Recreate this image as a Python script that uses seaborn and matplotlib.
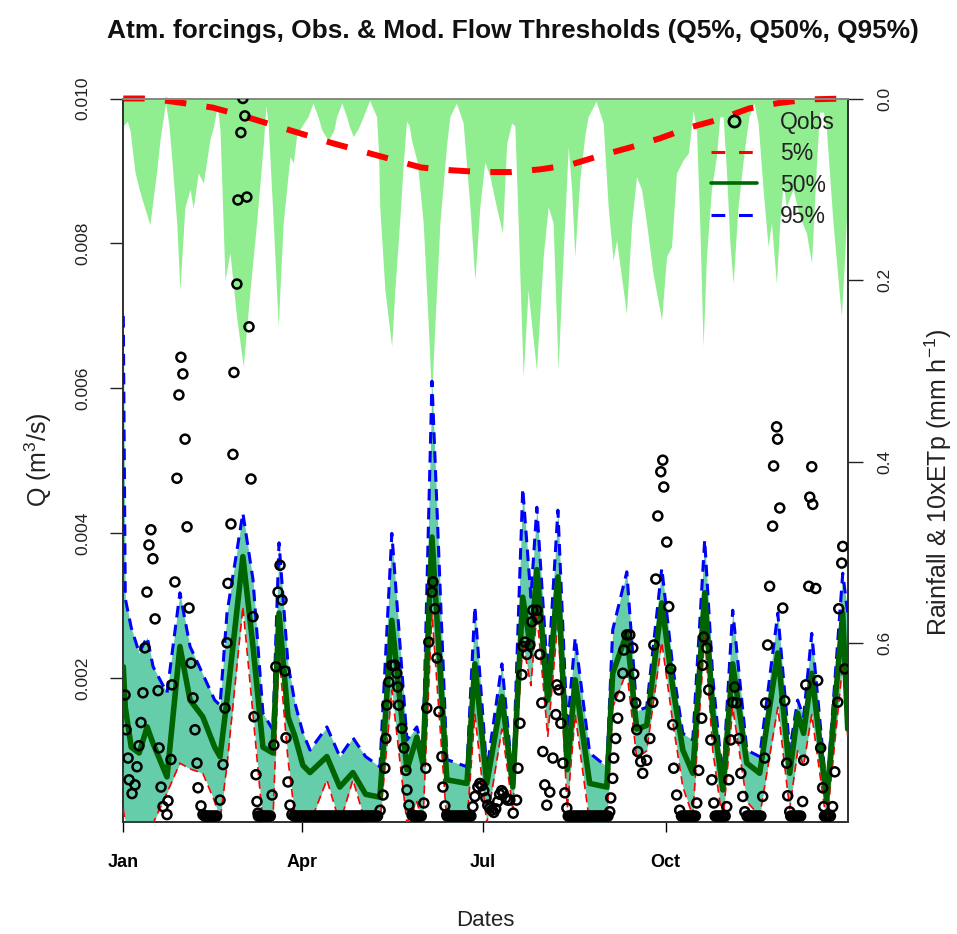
import numpy as np
import matplotlib
matplotlib.use("Agg")
import matplotlib.pyplot as plt
from matplotlib.lines import Line2D
import seaborn as sns

# ---------------- data ----------------
# Day of year (0 = 1 Jan)
tick_days = [0, 90, 181, 273]
tick_labels = ["Jan", "Apr", "Jul", "Oct"]

# Rainfall (right axis, mm/h), vertices of the rain hyetograph
rain_day = [0, 2, 3.4, 5.8, 8, 10, 13.4, 16.8, 18.5, 19.5, 21.3, 23, 24.3, 26.9, 28.5, 31, 33.6,
            35.2, 37.7, 40.3, 43.6, 45.5, 47.3, 48.7, 51.2, 53.7, 57, 60.4, 63.8, 67.1, 70.5,
            71.8, 73, 75.5, 78, 80.5, 83.9, 85.6, 87.3, 90, 93, 95.5, 98, 100, 103.2, 106, 107.4,
            110, 112.4, 114, 115.8, 118.5, 120.8, 124, 127.5, 128.5, 129.1, 131.7, 135.1, 136.7,
            139.3, 141, 142.6, 144, 145.1, 148, 151, 153.5, 155.2, 156.9, 159.4, 162.8, 164.4,
            167.7, 171.1, 174.5, 177, 179.5, 182, 184.6, 187.9, 190.9, 193, 195.5, 197.1, 198.8,
            201.3, 203.8, 205.5, 208, 211.4, 213.9, 216.4, 218.9, 221.4, 224, 225.7, 227.3,
            229.8, 232.4, 234, 238, 241.6, 244.1, 246.6, 248.3, 250.8, 253.3, 255.9, 258.4,
            260.9, 263.4, 266.7, 271, 273.5, 276, 278.5, 281.8, 284.5, 286.9, 288.6, 290.2,
            291.9, 293.6, 296.1, 298.6, 300.3, 302, 303.7, 305.3, 307, 309.5, 312, 313.7, 315,
            317.5, 319.6, 322.1, 324.6, 326.3, 328.8, 330.5, 332.2, 333.8, 337.2, 340.5, 343.9,
            346.5, 349, 350.5, 352.5, 354, 357.3, 361.5, 363.2, 364.7]
rain_val = [0.03, 0.025, 0.035, 0.08, 0.10, 0.115, 0.139, 0.08, 0.045, 0.03, 0.005, 0.03, 0.064,
            0.137, 0.211, 0.12, 0.10, 0.121, 0.082, 0.093, 0.045, 0.03, 0.008, 0.035, 0.20, 0.17,
            0.24, 0.295, 0.211, 0.137, 0.05, 0.008, 0.03, 0.137, 0.251, 0.137, 0.064, 0.071,
            0.04, 0.03, 0.02, 0.005, 0.02, 0.035, 0.046, 0.035, 0.02, 0.005, 0.02, 0.032, 0.042,
            0.032, 0.02, 0.002, 0.02, 0.06, 0.119, 0.211, 0.273, 0.211, 0.13, 0.07, 0.025, 0.03,
            0.046, 0.07, 0.137, 0.248, 0.33, 0.248, 0.137, 0.05, 0.02, 0.005, 0.027, 0.119, 0.20,
            0.119, 0.07, 0.086, 0.12, 0.148, 0.05, 0.027, 0.03, 0.137, 0.306, 0.211, 0.248,
            0.299, 0.174, 0.119, 0.137, 0.299, 0.174, 0.053, 0.10, 0.174, 0.09, 0.04, 0.02,
            0.003, 0.027, 0.119, 0.178, 0.156, 0.196, 0.237, 0.137, 0.086, 0.10, 0.137, 0.193,
            0.244, 0.174, 0.163, 0.082, 0.068, 0.06, 0.013, 0.035, 0.137, 0.273, 0.174, 0.10,
            0.064, 0.02, 0.02, 0.082, 0.156, 0.204, 0.119, 0.07, 0.04, 0.02, 0.005, 0.027, 0.10,
            0.163, 0.137, 0.204, 0.137, 0.093, 0.119, 0.10, 0.13, 0.148, 0.181, 0.07, 0.015,
            0.015, 0.035, 0.137, 0.24, 0.174, 0.10]

# 10 x potential evapotranspiration (right axis)
etp_day = [0, 10, 20, 30, 45, 60, 75, 90, 105, 120, 135, 150, 165, 180, 195, 210, 225, 240, 255,
           270, 285, 300, 315, 330, 345, 364]
etp_val = [0.0, 0.0, 0.002, 0.005, 0.010, 0.019, 0.029, 0.039, 0.049, 0.058, 0.067, 0.076, 0.079,
           0.081, 0.081, 0.078, 0.073, 0.063, 0.054, 0.044, 0.032, 0.023, 0.011, 0.005, 0.001, 0.0]

# Modelled flow thresholds (left axis, in 1e-3 m3/s)
flow_day = [0, 1, 4, 8, 12, 15, 22, 28.5, 33.6, 40, 46, 48.7, 52.2, 60.2, 65.3, 70.3, 75.3, 78.4,
            82.9, 86.4, 90.4, 94, 102.5, 109, 115.6, 122, 129.2, 135.2, 142.8, 147.8, 150.8, 155.4,
            162.9, 173, 177, 183, 190.6, 196.1, 201.1, 205.2, 208.2, 213.7, 218.8, 223.5, 227.5,
            234.8, 243.4, 246.4, 253.5, 258.5, 263.5, 271.1, 276.6, 281.7, 286.7, 292.7, 296.8,
            301.8, 306.8, 313.9, 320.4, 329.5, 335.5, 339.5, 342.5, 346.6, 354.1, 362.2, 364.7]
q95 = [7.0, 3.1, 2.7, 2.35, 2.57, 2.16, 1.8, 3.18, 2.44, 2.06, 1.7, 1.63, 2.9, 4.28, 3.36, 1.52,
       1.29, 3.87, 2.2, 1.66, 1.25, 1.01, 1.33, 0.92, 1.18, 0.92, 0.78, 4.0, 1.15, 1.33, 0.97,
       6.1, 0.88, 0.78, 2.99, 0.73, 2.2, 0.6, 4.62, 3.12, 4.36, 2.0, 4.32, 1.29, 2.56, 0.97,
       0.78, 2.67, 3.47, 1.55, 1.6, 3.52, 2.16, 1.24, 1.15, 3.91, 2.0, 0.6, 2.94, 1.01, 0.92,
       2.9, 1.01, 1.7, 1.47, 2.62, 0.42, 3.45, 2.9]
q50 = [2.16, 1.6, 1.05, 0.97, 1.33, 1.1, 0.64, 2.44, 1.7, 1.47, 1.05, 0.92, 1.7, 3.68, 2.44, 1.05,
       0.97, 2.9, 1.47, 1.2, 0.8, 0.7, 0.92, 0.5, 0.7, 0.4, 0.36, 2.8, 0.74, 1.19, 0.82, 3.95,
       0.6, 0.55, 2.2, 0.55, 1.75, 0.5, 3.12, 2.39, 3.5, 1.7, 3.4, 0.74, 1.98, 0.55, 0.5, 2.07,
       2.62, 1.3, 1.35, 3.04, 1.88, 1.01, 0.69, 3.18, 1.52, 0.46, 2.2, 0.83, 0.69, 2.35, 0.69,
       1.52, 1.24, 2.07, 0.32, 2.9, 1.3]
q5 = [0.2, 0.0, 0.0, 0.0, 0.0, 0.0, 0.42, 0.83, 0.75, 0.69, 0.3, 0.04, 0.8, 2.99, 1.5, 0.0, 0.0,
      2.35, 0.88, 0.1, 0.1, 0.0, 0.6, 0.0, 0.6, 0.0, 0.0, 1.84, 0.0, 0.3, 0.0, 2.9, 0.0, 0.0,
      1.5, 0.0, 1.3, 0.2, 2.5, 1.9, 2.9, 1.2, 2.8, 0.2, 1.5, 0.0, 0.0, 1.6, 2.1, 0.9, 1.0, 2.5,
      1.4, 0.5, 0.1, 2.6, 1.0, 0.0, 1.6, 0.3, 0.1, 1.6, 0.2, 1.0, 0.8, 1.5, 0.0, 2.2, 1.2]

# Observed flow (left axis, in 1e-3 m3/s)
qobs_day = [0.9, 1.4, 2.4, 2.9, 4.4, 5.9, 6.9, 7.9, 8.9, 9.9, 10.9, 11.9, 12.9, 13.9, 14.9, 16.0,
            17.5, 18.0, 19.0, 20.0, 22.0, 22.5, 24.0, 24.5, 26.0, 27.0, 28.0, 29.0, 30.0, 31.1,
            32.1, 33.1, 34.1, 35.1, 36.1, 37.1, 37.6, 39.1, 40.1,
            48.7, 50.2, 51.2, 52.2, 52.7, 54.2, 55.2, 55.7, 57.2, 57.7, 59.2, 60.2, 61.2, 62.2,
            63.3, 64.3, 65.3, 65.8, 66.8, 67.3, 67.8,
            74.9, 75.8, 76.8, 77.9, 78.9, 79.9, 81.4, 81.9, 82.9, 83.9, 84.9,
            129.3, 130.8, 131.7, 132.2, 132.7, 133.7, 135.2, 136.7, 137.7, 138.2, 138.7, 140.3,
            141.3, 142.3, 142.8, 143.8, 145.3,
            151.3, 152.3, 152.8, 153.8, 155.4, 155.9, 156.9, 157.9, 158.9, 160.4, 160.9, 161.9,
            162.9,
            176.0, 177.0, 178.5, 179.5, 180.5, 181.5, 182.5, 183.5, 184.5, 185.5, 186.5, 187.5,
            188.5, 189.5, 190.5, 191.2, 192.5, 193.5, 194.6, 196.3, 198.0,
            198.7, 199.7, 200.7, 201.2, 202.2, 203.2, 204.7, 205.7, 206.2, 208.2, 208.7, 209.7,
            210.7, 211.2, 212.2, 213.2, 214.7, 216.3, 217.8, 218.3, 219.3, 220.3, 221.3, 222.3,
            223.3,
            244.9, 245.4, 246.4, 246.9, 247.9, 248.9, 249.9, 251.5, 252.0, 253.5, 255.0, 256.5,
            257.0, 258.0, 258.5, 259.0, 260.5, 261.5, 263.5, 265.1, 266.6, 267.1, 268.1, 269.1,
            270.6, 271.6, 272.1, 273.6, 274.6, 275.6, 276.6, 277.1, 278.6, 280.1,
            288.7, 289.7, 291.2, 291.7, 292.2, 293.7, 294.7, 295.8, 296.3, 297.3,
            303.8, 304.8, 305.8, 306.8, 307.8, 308.8, 309.9, 310.9, 311.9, 312.9,
            321.9, 322.9, 323.4, 324.4, 325.4, 326.9, 327.4, 328.9, 329.4, 330.5, 332.0, 333.0,
            334.0, 334.5, 335.5,
            342.0, 342.5, 343.6, 345.1, 345.6, 346.6, 347.1, 348.6, 349.6, 351.1, 352.1, 352.6,
            357.1, 358.2, 359.7, 360.2, 361.7, 362.2, 363.2]
qobs_val = [1.77, 1.29, 0.90, 0.60, 0.41, 0.53, 0.78, 1.07, 1.39, 1.80, 2.42, 3.19, 3.84, 4.05,
            3.65, 2.82, 1.83, 1.04, 0.50, 0.23, 0.12, 0.31, 0.88, 1.91, 3.33, 4.76, 5.91, 6.43,
            6.20, 5.30, 4.09, 2.97, 2.21, 1.73, 1.29, 0.83, 0.49, 0.24, 0.12,
            0.32, 0.81, 1.59, 2.49, 3.31, 4.13, 5.09, 6.22, 7.44, 8.60, 9.53, 10.0, 9.76, 8.64,
            6.85, 4.75, 2.85, 1.47, 0.67, 0.30, 0.14,
            0.39, 1.08, 2.16, 3.19, 3.56, 3.08, 2.10, 1.18, 0.57, 0.25, 0.12,
            0.18, 0.39, 0.76, 1.17, 1.63, 1.95, 2.18, 2.18, 2.07, 1.88, 1.63, 1.31, 1.04, 0.73,
            0.46, 0.25, 0.12,
            0.28, 0.76, 1.59, 2.50, 3.19, 3.33, 2.96, 2.28, 1.54, 0.92, 0.50, 0.24, 0.12,
            0.23, 0.37, 0.50, 0.55, 0.52, 0.45, 0.35, 0.25, 0.21, 0.18, 0.15, 0.20, 0.30, 0.40,
            0.45, 0.42, 0.35, 0.32, 0.32, 0.14, 0.32,
            0.76, 1.38, 2.05, 2.44, 2.50, 2.33, 2.46, 2.78, 2.94, 2.94, 2.83, 2.33, 1.66, 0.99,
            0.53, 0.25, 0.43, 0.90, 1.50, 1.91, 1.84, 1.38, 0.83, 0.42, 0.21,
            0.16, 0.35, 0.62, 0.90, 1.17, 1.45, 1.75, 2.07, 2.39, 2.60, 2.60, 2.42, 2.06, 1.66,
            1.29, 0.99, 0.85, 0.69, 0.87, 1.17, 1.67, 2.46, 3.37, 4.24, 4.85, 5.01, 4.64, 3.88,
            2.99, 2.13, 1.36, 0.76, 0.39, 0.18,
            0.28, 0.73, 1.45, 2.18, 2.57, 2.42, 1.84, 1.15, 0.60, 0.28,
            0.23, 0.60, 1.15, 1.67, 1.88, 1.66, 1.17, 0.69, 0.37, 0.16,
            0.37, 0.90, 1.66, 2.46, 3.27, 4.10, 4.93, 5.47, 5.30, 4.35, 2.97, 1.69, 0.83, 0.38,
            0.16,
            0.30, 0.87, 1.91, 3.27, 4.50, 4.92, 4.40, 3.24, 1.97, 1.04, 0.49, 0.23,
            0.23, 0.71, 1.67, 2.96, 3.59, 3.82, 2.13]
# Periods (first day, last day) where the observed flow sits at its low floor
qobs_low_spans = [(41, 47), (68, 74), (86, 128), (146, 150), (163, 175), (224, 244),
                  (281, 288), (298, 303), (314, 321), (336, 341), (353, 356)]
qobs_low_val = 0.1

# ---------------- build series ----------------
scale = 1e-3
flow_day_a = np.array(flow_day)
q95_a = np.array(q95) * scale
q50_a = np.array(q50) * scale
q5_a = np.array(q5) * scale
low_days = np.concatenate([np.arange(a, b + 1) for a, b in qobs_low_spans])
obs_x = np.concatenate([np.array(qobs_day), low_days])
obs_y = np.concatenate([np.array(qobs_val), np.full(len(low_days), qobs_low_val)]) * scale

# ---------------- figure ----------------
sns.set_theme(style="ticks")
plt.rcParams["font.family"] = ["Liberation Sans", "DejaVu Sans"]
plt.rcParams["mathtext.fontset"] = "custom"
plt.rcParams["mathtext.rm"] = "Liberation Sans"

W, H = 957, 934
fig = plt.figure(figsize=(W / 100, H / 100), dpi=100)
left, right, top, bottom = 123.3, 848.3, 98.5, 821.7
ax = fig.add_axes([left / W, 1 - bottom / H, (right - left) / W, (bottom - top) / H])
ax2 = ax.twinx()
ax.set_zorder(ax2.get_zorder() + 1)
ax.patch.set_visible(False)

# rainfall + ETp (right axis, inverted)
ax2.fill_between(rain_day, 0, rain_val, color="#90EE90", linewidth=0, zorder=1)
sns.lineplot(x=etp_day, y=etp_val, ax=ax2, color="red", linewidth=4.3,
             linestyle=(0, (3.6, 3.4)), zorder=2, clip_on=False)
ax2.set_ylim(0.7965, 0)
ax2.set_yticks([0.0, 0.2, 0.4, 0.6])
ax2.set_yticklabels(["0.0", "0.2", "0.4", "0.6"], rotation=90, va="center")

# flow band + thresholds (left axis)
ax.fill_between(flow_day_a, q5_a, q95_a, color="#66CDAA", linewidth=0, zorder=2)
sns.lineplot(x=flow_day_a, y=q5_a, ax=ax, color="red", linewidth=1.2,
             linestyle=(0, (5, 3)), zorder=3)
sns.lineplot(x=flow_day_a, y=q95_a, ax=ax, color="blue", linewidth=2.2,
             linestyle=(0, (3.8, 2.4)), zorder=3)
sns.lineplot(x=flow_day_a, y=q50_a, ax=ax, color="#006400", linewidth=4.0, zorder=4)
sns.scatterplot(x=obs_x, y=obs_y, ax=ax, marker="o", s=42, facecolors="none",
                edgecolors="black", linewidth=1.8, zorder=5)

ax.set_xlim(0, 365)
ax.set_ylim(0.000022, 0.010)
ax.set_xticks(tick_days)
ax.set_xticklabels(tick_labels, fontweight="bold", fontsize=13)
ax.set_yticks([0.002, 0.004, 0.006, 0.008, 0.010])
ax.set_yticklabels(["0.002", "0.004", "0.006", "0.008", "0.010"], rotation=90, va="center")
ax.set_xlabel("")
ax.set_ylabel("")
ax2.set_ylabel("")

ax.tick_params(axis="y", length=9.5, width=1.0, pad=14, labelsize=12.5, colors="#222222")
ax.tick_params(axis="x", length=7, width=1.0, pad=16, labelsize=13, colors="black")
ax2.tick_params(axis="y", length=11, width=1.0, pad=10, labelsize=12.5, colors="#222222")
for a in (ax, ax2):
    for side in ("left", "right", "bottom"):
        a.spines[side].set_color("#333333")
        a.spines[side].set_linewidth(1.3)
    a.spines["top"].set_color("#888888")
    a.spines["top"].set_linewidth(1.3)

# legend
handles = [
    Line2D([], [], marker="o", linestyle="none", markerfacecolor="none",
           markeredgecolor="black", markeredgewidth=2, markersize=8),
    Line2D([], [], color="red", linewidth=2.2, linestyle=(0, (4.5, 4.5))),
    Line2D([], [], color="#006400", linewidth=2.6),
    Line2D([], [], color="blue", linewidth=2.2, linestyle=(0, (4.5, 4.5))),
]
leg = ax.legend(handles, ["Qobs", "5%", "50%", "95%"], loc="upper left",
                bbox_to_anchor=(711 / W, 1 - 111 / H), bbox_transform=fig.transFigure,
                frameon=False, fontsize=16.5, handlelength=2.0, handletextpad=1.0,
                labelspacing=0.36, borderpad=0, borderaxespad=0)
for t in leg.get_texts():
    t.set_color("#222222")

# titles and axis labels
fig.text(513 / W, 1 - 31 / H, "Atm. forcings, Obs. & Mod. Flow Thresholds (Q5%, Q50%, Q95%)",
         ha="center", va="center", fontsize=18.9, fontweight="bold", color="#111111")
fig.text(485 / W, 1 - 921 / H, "Dates", ha="center", va="center", fontsize=16, color="#222222")
fig.text(38 / W, 1 - 460 / H, "Q (m$^3$/s)", ha="center", va="center", rotation=90,
         fontsize=18, color="#222222")
fig.text(938 / W, 1 - 482 / H, "Rainfall & 10xETp (mm h$^{-1}$)", ha="center", va="center",
         rotation=90, fontsize=18, color="#222222")

fig.savefig("out.png", dpi=100)
